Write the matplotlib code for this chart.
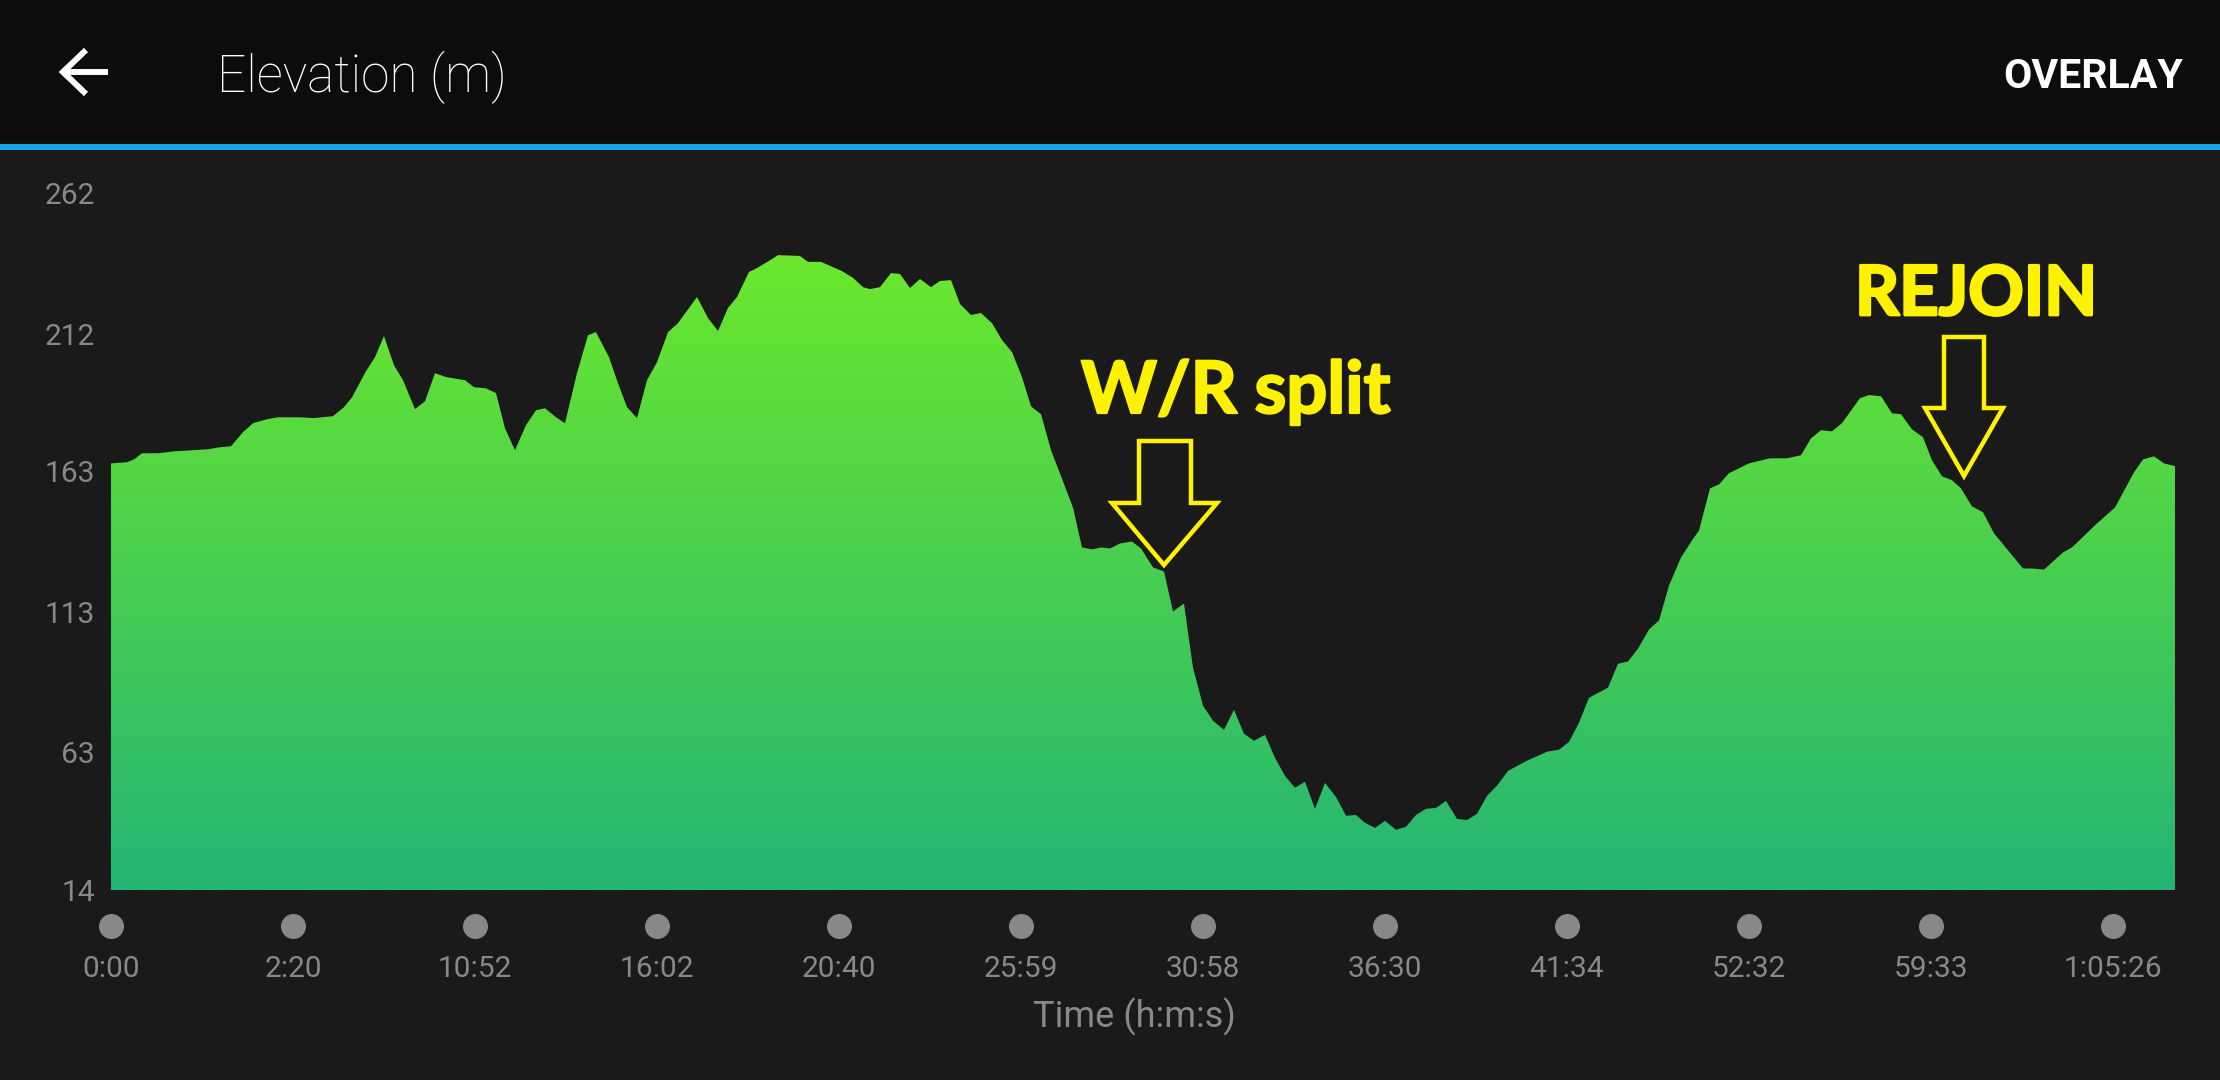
#----- importing modules -----
import numpy as np
import matplotlib
matplotlib.use("Agg")
import matplotlib.pyplot as plt
import matplotlib.patheffects as pe
from matplotlib.colors import LinearSegmentedColormap
from matplotlib.patches import Polygon, Rectangle

#----- data -----
sample = [0, 16, 23, 31, 47, 64, 82, 97, 108, 120, 132, 142, 156, 167, 189, 203, 222, 233, 241, 255,
          264, 273, 283, 292, 304, 314, 324, 335, 354, 363, 375, 385, 394, 404, 415, 425, 434, 445, 454, 466,
          477, 485, 498, 507, 516, 526, 536, 546, 557, 567, 586, 597, 607, 617, 626, 638, 646, 661, 667, 689,
          697, 710, 731, 742, 752, 759, 769, 780, 789, 799, 809, 820, 829, 840, 849, 860, 870, 881, 891, 901,
          911, 920, 930, 940, 962, 971, 981, 990, 999, 1009, 1021, 1030, 1042, 1053, 1062, 1073, 1082, 1092, 1102, 1113,
          1123, 1133, 1143, 1154, 1164, 1174, 1184, 1194, 1204, 1214, 1225, 1235, 1245, 1254, 1264, 1274, 1285, 1295, 1305, 1315,
          1325, 1335, 1346, 1356, 1366, 1376, 1386, 1397, 1416, 1436, 1448, 1458, 1468, 1478, 1497, 1507, 1517, 1527, 1538, 1548,
          1558, 1570, 1581, 1588, 1599, 1608, 1618, 1638, 1659, 1676, 1690, 1700, 1710, 1721, 1731, 1749, 1758, 1770, 1781, 1790,
          1801, 1812, 1821, 1831, 1841, 1850, 1861, 1872, 1883, 1912, 1921, 1933, 1952, 1961, 1985, 2004, 2023, 2032, 2043, 2053, 2064]
elevation = [165.8, 166.2, 167.2, 169.4, 169.4, 170.1, 170.5, 170.8, 171.5, 171.9, 176.9, 180.1, 181.5, 182.2, 182.2, 181.9, 182.6, 185.8, 189.3, 198.6,
             203.6, 211.1, 200.7, 195.4, 185.1, 187.9, 197.9, 196.5, 195.4, 192.9, 192.5, 190.8, 178.3, 170.5, 179.4, 184.7, 185.4, 182.2, 180.1, 197.9,
             211.4, 212.5, 203.6, 194.3, 185.8, 181.9, 195.4, 201.8, 212.5, 215.7, 225.0, 217.5, 212.9, 221.1, 225.0, 233.9, 235.3, 238.5, 239.9, 239.6,
             237.5, 237.5, 234.2, 231.8, 228.5, 227.8, 228.5, 233.5, 233.2, 228.2, 231.4, 228.5, 230.7, 231.0, 222.5, 218.6, 219.3, 215.7, 209.7, 205.4,
             196.5, 186.1, 183.3, 170.5, 150.1, 135.9, 135.2, 135.9, 135.5, 137.3, 138.0, 135.5, 128.8, 127.3, 113.1, 115.9, 93.1, 79.6, 74.2, 71.0,
             78.1, 69.6, 67.1, 69.2, 61.0, 54.6, 50.4, 52.5, 42.9, 52.1, 47.1, 40.4, 40.7, 37.9, 36.1, 38.6, 35.4, 36.5, 40.7, 42.9,
             43.2, 45.7, 39.3, 38.9, 41.1, 47.5, 51.1, 56.4, 60.0, 63.2, 63.9, 66.7, 73.5, 82.4, 86.0, 94.5, 95.3, 99.9, 106.7, 109.9,
             122.3, 132.3, 138.4, 141.9, 156.9, 158.3, 162.3, 165.8, 167.6, 167.6, 168.7, 174.7, 177.6, 177.2, 180.1, 189.0, 190.1, 189.7, 183.6, 183.3,
             177.9, 175.1, 166.9, 161.2, 159.8, 156.9, 150.5, 148.4, 140.9, 128.4, 128.4, 128.0, 134.1, 135.9, 144.1, 150.1, 162.6, 167.2, 168.3, 165.8, 164.8]
tick_samples = [0, 182, 364, 546, 728, 910, 1092, 1274, 1456, 1638, 1820, 2002]
time_labels = ["0:00", "2:20", "10:52", "16:02", "20:40", "25:59", "30:58", "36:30", "41:34", "52:32", "59:33", "1:05:26"]
elev_ticks = [14, 63, 113, 163, 212, 262]

#----- colours -----
body = "#1a1a1a"
header = "#0c0c0c"
blue = "#17a5e6"
grey = "#888888"
yellow = "#fff200"
W, H = 2220, 1080

plt.rcParams['font.family'] = ['Roboto', 'DejaVu Sans']
fig = plt.figure(figsize=(W / 100, H / 100), dpi=100, facecolor=body)

#----- the chart itself -----
left, right, top, bottom = 111, 2175, 193, 889
ax = fig.add_axes([left / W, 1 - (bottom + 1) / H, (right - left) / W, (bottom + 1 - top) / H])
ax.set_facecolor(body)
for s in ax.spines.values():
    s.set_visible(False)

# gradient goes from the highest point down to the base, clipped to the area
shape = ax.fill_between(sample, elevation, elev_ticks[0], color='none')
cmap = LinearSegmentedColormap.from_list("elev", ["#25b574", "#6be82d"])
grad = np.linspace(0, 1, 256).reshape(-1, 1)
im = ax.imshow(grad, origin='lower', aspect='auto', cmap=cmap,
               extent=[0, sample[-1], elev_ticks[0], max(elevation)])
im.set_clip_path(shape.get_paths()[0], transform=ax.transData)
ax.set_xlim(0, sample[-1])
ax.set_ylim(elev_ticks[0], elev_ticks[-1])

ax.set_yticks(elev_ticks)
ax.set_yticklabels([str(v) for v in elev_ticks], fontsize=21.5, color=grey)
ax.tick_params(axis='y', length=0, pad=11.5)
ax.set_xticks(tick_samples)
ax.set_xticklabels(time_labels, fontsize=21.5, color=grey)
ax.tick_params(axis='x', length=0, pad=47)
ax.set_xlabel("Time (h:m:s)", fontsize=26, color=grey, va='center')
ax.xaxis.set_label_coords(0.496, (bottom - 1016) / (bottom - top))

# grey dots in place of tick marks
ax.plot(tick_samples, [(bottom - 925) / (bottom - top)] * len(tick_samples), 'o', color=grey,
        ms=18, mew=0, transform=ax.get_xaxis_transform(), clip_on=False)

#----- overlay in picture pixels: app header and hand drawn notes -----
over = fig.add_axes([0, 0, 1, 1])
over.set_xlim(0, W)
over.set_ylim(H, 0)
over.axis('off')
over.add_patch(Rectangle((0, 0), W, 144, color=header, lw=0))
over.add_patch(Rectangle((0, 144), W, 6, color=blue, lw=0))
over.plot([108, 63], [72, 72], color='white', lw=4.3, solid_capstyle='butt')
over.plot([86, 63, 86], [50, 72, 94], color='white', lw=4.3, solid_joinstyle='miter', solid_capstyle='butt')
over.text(217, 77, "Elevation (m)", fontsize=37, fontweight='light', color='white', va='center', ha='left')
over.text(2183, 77, "OVERLAY", fontsize=29.5, fontweight='bold', color='white', va='center', ha='right')


def note_arrow(x0, x1, head0, head1, tip_x, y_top, y_sh, y_tip):
    pts = [(x0, y_top), (x1, y_top), (x1, y_sh), (head1, y_sh), (tip_x, y_tip), (head0, y_sh), (x0, y_sh)]
    over.add_patch(Polygon(pts, closed=True, fill=False, ec=yellow, lw=3.2, joinstyle='miter'))


note_arrow(1139, 1191, 1112, 1217, 1164, 441, 503, 565)
note_arrow(1944, 1984, 1925, 2003, 1964, 337, 408, 476)

t = over.text(1081, 413, "W/R split", fontsize=52, fontweight='bold', color=yellow, va='baseline', ha='left',
              family='Lato', path_effects=[pe.withStroke(linewidth=1.6, foreground=yellow)])
t.set_clip_path(Rectangle((1000, 340), 500, 76, transform=over.transData))
over.text(1855, 315, "REJOIN", fontsize=49.5, fontweight='bold', color=yellow, va='baseline', ha='left',
          family='Lato', path_effects=[pe.withStroke(linewidth=2, foreground=yellow)])

fig.savefig("out.png", dpi=100, facecolor=body)
